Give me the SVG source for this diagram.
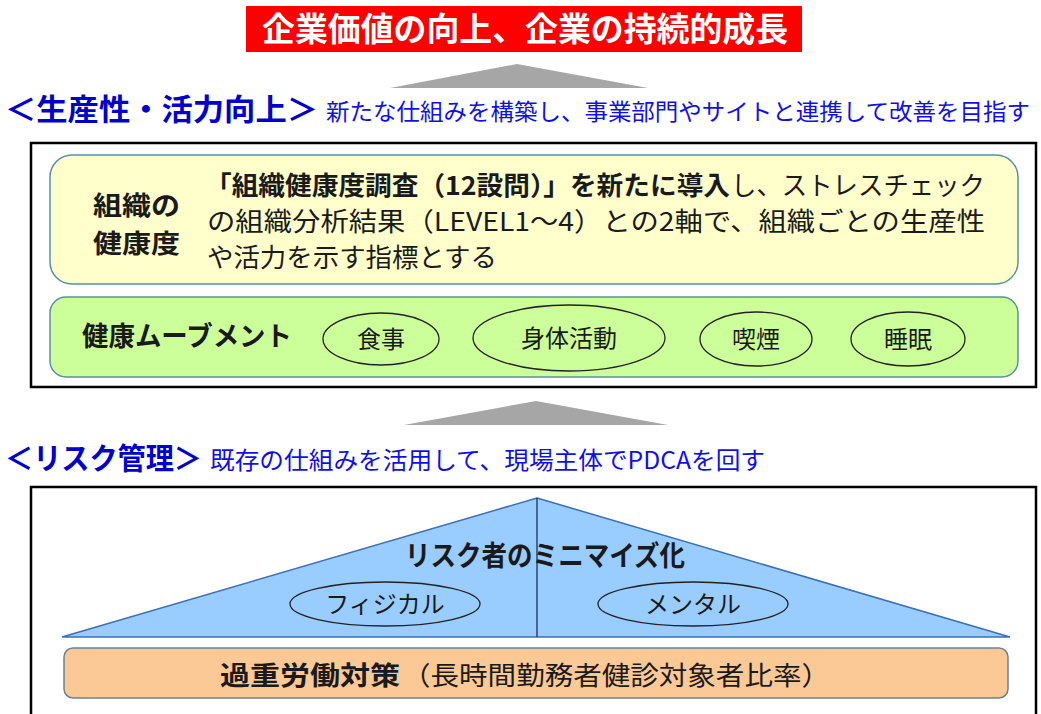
<svg xmlns="http://www.w3.org/2000/svg" width="1041" height="714" viewBox="0 0 1041 714">
<style>
text{font-family:"Noto Sans CJK JP","Noto Sans",sans-serif;}
.b{font-weight:bold;}
.blue{fill:#0000cc;}
.sub{fill:#1010e6;}
.dark{fill:#1a1a1a;}
.outer{fill:none;stroke:#000;stroke-width:2.5;}
.panel{stroke:#5a8ea6;stroke-width:1.5;}
.oval{fill:none;stroke:#222;stroke-width:1.3;}
.arrow{fill:#a6a6a6;}
</style>
<rect width="1041" height="714" fill="#fff"/>

<g id="goal">
<rect x="246" y="6" width="556" height="46" fill="#ff0000"/>
<text x="525" y="41" text-anchor="middle" class="b" font-size="33" fill="#fff" textLength="526" lengthAdjust="spacingAndGlyphs">企業価値の向上、企業の持続的成長</text>
</g>

<g id="connectors">
<polygon class="arrow" points="517,64 648,88 390,88"/>
<polygon class="arrow" points="536,401 668,425 404,425"/>
</g>

<g id="heading-productivity">
<text x="5" y="120" class="b blue" font-size="30" textLength="313" lengthAdjust="spacingAndGlyphs">＜生産性・活力向上＞</text>
<text x="326" y="120" class="sub" font-size="23" textLength="704" lengthAdjust="spacingAndGlyphs">新たな仕組みを構築し、事業部門やサイトと連携して改善を目指す</text>
</g>

<rect class="outer" x="31" y="143" width="1005" height="244"/>

<g id="org-health">
<rect class="panel" x="50" y="155" width="968" height="129" rx="22" fill="#ffffcc"/>
<text x="93" y="215" class="b dark" font-size="26" textLength="87" lengthAdjust="spacingAndGlyphs">組織の</text>
<text x="93" y="253" class="b dark" font-size="26" textLength="87" lengthAdjust="spacingAndGlyphs">健康度</text>
<text x="205" y="195" class="b dark" font-size="26" textLength="525" lengthAdjust="spacingAndGlyphs">「組織健康度調査（12設問）」を新たに導入</text>
<text x="731" y="195" class="dark" font-size="26" textLength="254" lengthAdjust="spacingAndGlyphs">し、ストレスチェック</text>
<text x="207" y="231" class="dark" font-size="26" textLength="778" lengthAdjust="spacingAndGlyphs">の組織分析結果（LEVEL1～4）との2軸で、組織ごとの生産性</text>
<text x="207" y="267" class="dark" font-size="26" textLength="290" lengthAdjust="spacingAndGlyphs">や活力を示す指標とする</text>
</g>

<g id="health-movement">
<rect class="panel" x="50" y="297" width="968" height="80" rx="16" fill="#ccff99"/>
<text x="82" y="346" class="b dark" font-size="27" textLength="210" lengthAdjust="spacingAndGlyphs">健康ムーブメント</text>
<g id="meal"><ellipse class="oval" cx="381" cy="339" rx="58" ry="26"/><text x="381" y="348" text-anchor="middle" class="dark" font-size="24">食事</text></g>
<g id="activity"><ellipse class="oval" cx="569" cy="338" rx="96" ry="33"/><text x="569" y="347" text-anchor="middle" class="dark" font-size="24">身体活動</text></g>
<g id="smoking"><ellipse class="oval" cx="756" cy="339" rx="56" ry="27"/><text x="756" y="348" text-anchor="middle" class="dark" font-size="24">喫煙</text></g>
<g id="sleep"><ellipse class="oval" cx="908" cy="339" rx="57" ry="27"/><text x="908" y="348" text-anchor="middle" class="dark" font-size="24">睡眠</text></g>
</g>

<g id="heading-risk">
<text x="5" y="469" class="b blue" font-size="30" textLength="197" lengthAdjust="spacingAndGlyphs">＜リスク管理＞</text>
<text x="210" y="469" class="sub" font-size="24" textLength="555" lengthAdjust="spacingAndGlyphs">既存の仕組みを活用して、現場主体でPDCAを回す</text>
</g>

<rect class="outer" x="31" y="487" width="1005" height="240"/>

<g id="risk-minimize">
<polygon points="537,498 1010,637 62,637" fill="#99ccff" stroke="#3d6fb5" stroke-width="1.5"/>
<line x1="537" y1="498" x2="537" y2="637" stroke="#1f2f5a" stroke-width="1.3"/>
<text x="545" y="566" text-anchor="middle" class="b dark" font-size="28" textLength="280" lengthAdjust="spacingAndGlyphs">リスク者のミニマイズ化</text>
<g id="physical"><ellipse class="oval" cx="385" cy="604" rx="95" ry="22"/><text x="385" y="613" text-anchor="middle" class="dark" font-size="24">フィジカル</text></g>
<g id="mental"><ellipse class="oval" cx="693" cy="604" rx="95" ry="22"/><text x="693" y="613" text-anchor="middle" class="dark" font-size="24">メンタル</text></g>
</g>

<g id="overwork">
<rect x="64" y="648" width="944" height="50" rx="9" fill="#fbc996" stroke="#6d8193" stroke-width="1.5"/>
<text x="220" y="685" class="b dark" font-size="26" textLength="180" lengthAdjust="spacingAndGlyphs">過重労働対策</text>
<text x="402" y="685" class="dark" font-size="26" textLength="428" lengthAdjust="spacingAndGlyphs">（長時間勤務者健診対象者比率）</text>
</g>
</svg>
